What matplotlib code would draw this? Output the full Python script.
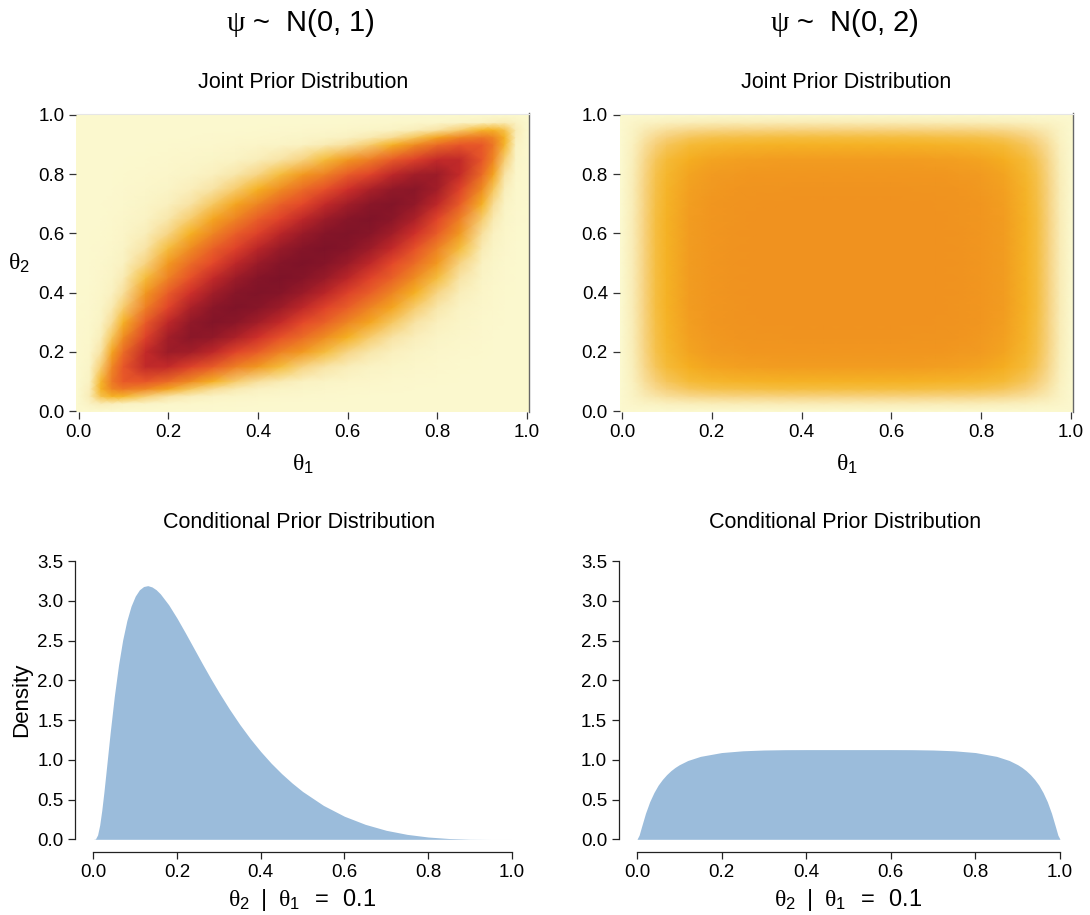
import numpy as np
import matplotlib
matplotlib.use("Agg")
import matplotlib.pyplot as plt
from matplotlib.colors import LinearSegmentedColormap, Normalize

plt.rcParams['font.family'] = ['Liberation Sans', 'DejaVu Sans']
plt.rcParams['mathtext.fontset'] = 'custom'
plt.rcParams['mathtext.rm'] = 'Liberation Serif'
plt.rcParams['mathtext.it'] = 'Liberation Serif:italic'
plt.rcParams['mathtext.bf'] = 'Liberation Serif:bold'
plt.rcParams['mathtext.sf'] = 'Liberation Sans'

# ---------------- data ----------------
panel_titles = [r'$\mathrm{\psi}$ ~  N(0, 1)', r'$\mathrm{\psi}$ ~  N(0, 2)']
grid_nodes = [0.0, 0.025, 0.05, 0.075, 0.1, 0.15, 0.2, 0.25, 0.3, 0.35, 0.4, 0.45, 0.5,
              0.55, 0.6, 0.65, 0.7, 0.75, 0.8, 0.85, 0.9, 0.925, 0.95, 0.975, 1.0]

# joint prior density, psi ~ N(0,1); rows = theta2 nodes, columns = theta1 nodes
joint_psi1 = [
    [0]*25,
    [0, .33, .45, .41, .34, .21, .13, .08, .05, .03, .02, .01, .01, 0, 0, 0, 0, 0, 0, 0, 0, 0, 0, 0, 0],
    [0, .45, .92, 1.06, 1.03, .82, .60, .42, .29, .20, .14, .09, .06, .04, .02, .01, .01, 0, 0, 0, 0, 0, 0, 0, 0],
    [0, .41, 1.06, 1.41, 1.52, 1.40, 1.14, .88, .67, .49, .36, .26, .18, .12, .08, .05, .03, .01, .01, 0, 0, 0, 0, 0, 0],
    [0, .34, 1.03, 1.52, 1.76, 1.80, 1.60, 1.33, 1.06, .83, .63, .47, .35, .24, .17, .11, .07, .04, .02, .01, 0, 0, 0, 0, 0],
    [0, .21, .82, 1.40, 1.80, 2.18, 2.17, 1.99, 1.74, 1.47, 1.21, .97, .76, .58, .42, .29, .19, .11, .06, .02, .01, 0, 0, 0, 0],
    [0, .13, .60, 1.14, 1.60, 2.17, 2.38, 2.35, 2.20, 1.97, 1.72, 1.45, 1.20, .96, .74, .54, .38, .24, .13, .06, .02, .01, 0, 0, 0],
    [0, .08, .42, .88, 1.33, 1.99, 2.35, 2.48, 2.44, 2.30, 2.10, 1.86, 1.60, 1.33, 1.07, .83, .60, .41, .24, .11, .04, .01, 0, 0, 0],
    [0, .05, .29, .67, 1.06, 1.74, 2.20, 2.44, 2.52, 2.48, 2.35, 2.17, 1.94, 1.68, 1.41, 1.13, .86, .60, .38, .19, .07, .03, .01, 0, 0],
    [0, .03, .20, .49, .83, 1.47, 1.97, 2.30, 2.48, 2.54, 2.50, 2.38, 2.20, 1.98, 1.71, 1.43, 1.13, .83, .54, .29, .11, .05, .01, 0, 0],
    [0, .02, .14, .36, .63, 1.21, 1.72, 2.10, 2.35, 2.50, 2.54, 2.51, 2.39, 2.22, 1.99, 1.71, 1.41, 1.07, .74, .42, .17, .08, .02, 0, 0],
    [0, .01, .09, .26, .47, .97, 1.45, 1.86, 2.17, 2.38, 2.51, 2.55, 2.51, 2.40, 2.22, 1.98, 1.68, 1.33, .96, .58, .24, .12, .04, 0, 0],
    [0, .01, .06, .18, .35, .76, 1.20, 1.60, 1.94, 2.20, 2.39, 2.51, 2.55, 2.51, 2.39, 2.20, 1.94, 1.60, 1.20, .76, .35, .18, .06, .01, 0],
    [0, 0, .04, .12, .24, .58, .96, 1.33, 1.68, 1.98, 2.22, 2.40, 2.51, 2.55, 2.51, 2.38, 2.17, 1.86, 1.45, .97, .47, .26, .09, .01, 0],
    [0, 0, .02, .08, .17, .42, .74, 1.07, 1.41, 1.71, 1.99, 2.22, 2.39, 2.51, 2.54, 2.50, 2.35, 2.10, 1.72, 1.21, .63, .36, .14, .02, 0],
    [0, 0, .01, .05, .11, .29, .54, .83, 1.13, 1.43, 1.71, 1.98, 2.20, 2.38, 2.50, 2.54, 2.48, 2.30, 1.97, 1.47, .83, .49, .20, .03, 0],
    [0, 0, .01, .03, .07, .19, .38, .60, .86, 1.13, 1.41, 1.68, 1.94, 2.17, 2.35, 2.48, 2.52, 2.44, 2.20, 1.74, 1.06, .67, .29, .05, 0],
    [0, 0, 0, .01, .04, .11, .24, .41, .60, .83, 1.07, 1.33, 1.60, 1.86, 2.10, 2.30, 2.44, 2.48, 2.35, 1.99, 1.33, .88, .42, .08, 0],
    [0, 0, 0, .01, .02, .06, .13, .24, .38, .54, .74, .96, 1.20, 1.45, 1.72, 1.97, 2.20, 2.35, 2.38, 2.17, 1.60, 1.14, .60, .13, 0],
    [0, 0, 0, 0, .01, .02, .06, .11, .19, .29, .42, .58, .76, .97, 1.21, 1.47, 1.74, 1.99, 2.17, 2.18, 1.80, 1.40, .82, .21, 0],
    [0, 0, 0, 0, 0, .01, .02, .04, .07, .11, .17, .24, .35, .47, .63, .83, 1.06, 1.33, 1.60, 1.80, 1.76, 1.52, 1.03, .34, 0],
    [0, 0, 0, 0, 0, 0, .01, .01, .03, .05, .08, .12, .18, .26, .36, .49, .67, .88, 1.14, 1.40, 1.52, 1.41, 1.06, .41, 0],
    [0, 0, 0, 0, 0, 0, 0, 0, .01, .01, .02, .04, .06, .09, .14, .20, .29, .42, .60, .82, 1.03, 1.06, .92, .45, 0],
    [0, 0, 0, 0, 0, 0, 0, 0, 0, 0, 0, 0, .01, .01, .02, .03, .05, .08, .13, .21, .34, .41, .45, .33, 0],
    [0]*25,
]

# joint prior density, psi ~ N(0,2)
joint_psi2 = [
    [0]*25,
    [0, .16, .28, .34, .38, .42, .44, .45, .45, .46, .46, .46, .46, .46, .46, .46, .45, .45, .44, .42, .38, .34, .28, .16, 0],
    [0, .28, .46, .57, .64, .71, .74, .76, .76, .77, .77, .77, .77, .77, .77, .77, .76, .76, .74, .71, .64, .57, .46, .28, 0],
    [0, .34, .57, .70, .79, .88, .92, .93, .94, .95, .95, .95, .95, .95, .95, .95, .94, .93, .92, .88, .79, .70, .57, .34, 0],
    [0, .38, .64, .79, .88, .98, 1.02, 1.04, 1.05, 1.06, 1.06, 1.06, 1.06, 1.06, 1.06, 1.06, 1.05, 1.04, 1.02, .98, .88, .79, .64, .38, 0],
    [0, .42, .71, .88, .98, 1.09, 1.14, 1.16, 1.17, 1.18, 1.18, 1.18, 1.18, 1.18, 1.18, 1.18, 1.17, 1.16, 1.14, 1.09, .98, .88, .71, .42, 0],
    [0, .44, .74, .92, 1.02, 1.14, 1.19, 1.21, 1.23, 1.23, 1.23, 1.23, 1.23, 1.23, 1.23, 1.23, 1.23, 1.21, 1.19, 1.14, 1.02, .92, .74, .44, 0],
    [0, .45, .76, .93, 1.04, 1.16, 1.21, 1.24, 1.25, 1.25, 1.26, 1.26, 1.26, 1.26, 1.26, 1.25, 1.25, 1.24, 1.21, 1.16, 1.04, .93, .76, .45, 0],
    [0, .45, .76, .94, 1.05, 1.17, 1.23, 1.25, 1.26, 1.27, 1.27, 1.27, 1.27, 1.27, 1.27, 1.27, 1.26, 1.25, 1.23, 1.17, 1.05, .94, .76, .45, 0],
    [0, .46, .77, .95, 1.06, 1.18, 1.23, 1.25, 1.27, 1.27, 1.27, 1.27, 1.27, 1.27, 1.27, 1.27, 1.27, 1.25, 1.23, 1.18, 1.06, .95, .77, .46, 0],
    [0, .46, .77, .95, 1.06, 1.18, 1.23, 1.26, 1.27, 1.27, 1.27, 1.27, 1.27, 1.27, 1.27, 1.27, 1.27, 1.26, 1.23, 1.18, 1.06, .95, .77, .46, 0],
    [0, .46, .77, .95, 1.06, 1.18, 1.23, 1.26, 1.27, 1.27, 1.27, 1.27, 1.27, 1.27, 1.27, 1.27, 1.27, 1.26, 1.23, 1.18, 1.06, .95, .77, .46, 0],
    [0, .46, .77, .95, 1.06, 1.18, 1.23, 1.26, 1.27, 1.27, 1.27, 1.27, 1.27, 1.27, 1.27, 1.27, 1.27, 1.26, 1.23, 1.18, 1.06, .95, .77, .46, 0],
    [0, .46, .77, .95, 1.06, 1.18, 1.23, 1.26, 1.27, 1.27, 1.27, 1.27, 1.27, 1.27, 1.27, 1.27, 1.27, 1.26, 1.23, 1.18, 1.06, .95, .77, .46, 0],
    [0, .46, .77, .95, 1.06, 1.18, 1.23, 1.26, 1.27, 1.27, 1.27, 1.27, 1.27, 1.27, 1.27, 1.27, 1.27, 1.26, 1.23, 1.18, 1.06, .95, .77, .46, 0],
    [0, .46, .77, .95, 1.06, 1.18, 1.23, 1.25, 1.27, 1.27, 1.27, 1.27, 1.27, 1.27, 1.27, 1.27, 1.27, 1.25, 1.23, 1.18, 1.06, .95, .77, .46, 0],
    [0, .45, .76, .94, 1.05, 1.17, 1.23, 1.25, 1.26, 1.27, 1.27, 1.27, 1.27, 1.27, 1.27, 1.27, 1.26, 1.25, 1.23, 1.17, 1.05, .94, .76, .45, 0],
    [0, .45, .76, .93, 1.04, 1.16, 1.21, 1.24, 1.25, 1.25, 1.26, 1.26, 1.26, 1.26, 1.26, 1.25, 1.25, 1.24, 1.21, 1.16, 1.04, .93, .76, .45, 0],
    [0, .44, .74, .92, 1.02, 1.14, 1.19, 1.21, 1.23, 1.23, 1.23, 1.23, 1.23, 1.23, 1.23, 1.23, 1.23, 1.21, 1.19, 1.14, 1.02, .92, .74, .44, 0],
    [0, .42, .71, .88, .98, 1.09, 1.14, 1.16, 1.17, 1.18, 1.18, 1.18, 1.18, 1.18, 1.18, 1.18, 1.17, 1.16, 1.14, 1.09, .98, .88, .71, .42, 0],
    [0, .38, .64, .79, .88, .98, 1.02, 1.04, 1.05, 1.06, 1.06, 1.06, 1.06, 1.06, 1.06, 1.06, 1.05, 1.04, 1.02, .98, .88, .79, .64, .38, 0],
    [0, .34, .57, .70, .79, .88, .92, .93, .94, .95, .95, .95, .95, .95, .95, .95, .94, .93, .92, .88, .79, .70, .57, .34, 0],
    [0, .28, .46, .57, .64, .71, .74, .76, .76, .77, .77, .77, .77, .77, .77, .77, .76, .76, .74, .71, .64, .57, .46, .28, 0],
    [0, .16, .28, .34, .38, .42, .44, .45, .45, .46, .46, .46, .46, .46, .46, .46, .45, .45, .44, .42, .38, .34, .28, .16, 0],
    [0]*25,
]

# conditional prior density theta2 | theta1 = 0.1
cond1_x = [0, 0.005, 0.01, 0.015, 0.02, 0.025, 0.03, 0.04, 0.05, 0.06, 0.07, 0.08, 0.09, 0.10,
           0.11, 0.12, 0.13, 0.14, 0.15, 0.16, 0.18, 0.20, 0.22, 0.24, 0.26, 0.28, 0.30, 0.325,
           0.35, 0.375, 0.40, 0.425, 0.45, 0.475, 0.50, 0.55, 0.60, 0.65, 0.70, 0.75, 0.80,
           0.85, 0.90, 0.95, 1.0]
cond1_y = [0, 0.005, 0.055, 0.178, 0.363, 0.588, 0.835, 1.337, 1.799, 2.190, 2.507, 2.751,
           2.932, 3.058, 3.138, 3.179, 3.190, 3.174, 3.139, 3.087, 2.949, 2.780, 2.595, 2.404,
           2.213, 2.027, 1.849, 1.639, 1.444, 1.266, 1.104, 0.957, 0.826, 0.708, 0.602, 0.426,
           0.290, 0.188, 0.113, 0.062, 0.029, 0.010, 0.002, 0.0001, 0]
cond2_x = [0, 0.005, 0.01, 0.02, 0.03, 0.04, 0.05, 0.06, 0.07, 0.08, 0.09, 0.10, 0.12, 0.15,
           0.20, 0.25, 0.30, 0.35, 0.40, 0.45, 0.50, 0.55, 0.60, 0.65, 0.70, 0.75, 0.80, 0.85,
           0.88, 0.90, 0.91, 0.92, 0.93, 0.94, 0.95, 0.96, 0.97, 0.98, 0.99, 0.995, 1.0]
cond2_y = [0, 0.052, 0.145, 0.326, 0.473, 0.588, 0.681, 0.753, 0.813, 0.863, 0.904, 0.938,
           0.991, 1.043, 1.091, 1.113, 1.123, 1.127, 1.128, 1.128, 1.128, 1.128, 1.128, 1.127,
           1.123, 1.113, 1.091, 1.043, 0.991, 0.938, 0.904, 0.863, 0.813, 0.753, 0.681, 0.588,
           0.473, 0.326, 0.145, 0.052, 0]

axis_ticks = [0.0, 0.2, 0.4, 0.6, 0.8, 1.0]
axis_ticklabels = ['0.0', '0.2', '0.4', '0.6', '0.8', '1.0']
density_ticks = [0.0, 0.5, 1.0, 1.5, 2.0, 2.5, 3.0, 3.5]
density_ticklabels = ['0.0', '0.5', '1.0', '1.5', '2.0', '2.5', '3.0', '3.5']

# ---------------- style ----------------
W, H = 1090, 915
fig = plt.figure(figsize=(W / 100, H / 100), dpi=100)

def px_axes(x0, x1, ytop, ybot):
    return fig.add_axes([x0 / W, 1 - ybot / H, (x1 - x0) / W, (ybot - ytop) / H])

heat_colors = [
    (0.00, '#FBF8CE'), (0.35, '#FAF2C2'), (0.60, '#F8E3A4'), (0.80, '#F7CF78'),
    (0.97, '#F5BC3A'), (1.08, '#F5B020'), (1.18, '#F29C20'), (1.27, '#F0921F'),
    (1.45, '#EE8224'), (1.65, '#EA6427'), (1.94, '#E4482A'), (2.10, '#CF302A'),
    (2.25, '#B52428'), (2.39, '#9A1B28'), (2.55, '#7E1328')]
vmax = 2.55
cmap = LinearSegmentedColormap.from_list('jointheat', [(v / vmax, c) for v, c in heat_colors])
norm = Normalize(0, vmax)
pale = '#FBF8CE'
fill_col = '#9BBCDB'
tick_fs = 13.5
title_fs = 15.5
label_fs = 17

heat_boxes = [(76.3, 529.3), (619.8, 1073.3)]
heat_ytop, heat_ybot = 113.5, 412.5
nodes = np.array(grid_nodes)
for k, (Z, (x0, x1)) in enumerate(zip([joint_psi1, joint_psi2], heat_boxes)):
    ax = px_axes(x0, x1, heat_ytop, heat_ybot)
    ax.set_facecolor(pale)
    ax.pcolormesh(nodes, nodes, np.array(Z), shading='gouraud', cmap=cmap, norm=norm,
                  rasterized=True)
    ax.set_xlim(-0.005, 1.005)
    ax.set_ylim(-0.005, 1.005)
    ax.spines['left'].set_visible(False)
    ax.spines['bottom'].set_visible(False)
    ax.spines['right'].set_color('#666666')
    ax.spines['right'].set_linewidth(1.0)
    ax.spines['top'].set_color('#e6e6e6')
    ax.spines['top'].set_linewidth(0.8)
    ax.set_xticks(axis_ticks)
    ax.set_xticklabels(axis_ticklabels)
    ax.set_yticks(axis_ticks)
    ax.set_yticklabels(axis_ticklabels)
    ax.tick_params(direction='out', length=5, width=0.9, color='#333333',
                   labelsize=tick_fs, pad=3.5)
    cx = (x0 + x1) / 2
    fig.text(cx / W, 1 - 83 / H, 'Joint Prior Distribution', ha='center', va='center',
             fontsize=title_fs)
    fig.text(cx / W, 1 - 464 / H, r'$\mathrm{\theta}_\mathsf{1}$', ha='center', va='center',
             fontsize=label_fs)
    fig.text((cx - 2) / W, 1 - 23 / H, panel_titles[k], ha='center', va='center', fontsize=21)

fig.text(19 / W, 1 - 263 / H, r'$\mathrm{\theta}_\mathsf{2}$', ha='center', va='center',
         fontsize=label_fs)

cond_boxes = [(93.4, 511.7), (637.0, 1060.0)]
cond_ytop, cond_ybot = 561.0, 839.3
for k, (xs, ys, (x0, x1)) in enumerate(zip([cond1_x, cond2_x], [cond1_y, cond2_y], cond_boxes)):
    ax = px_axes(x0, x1, cond_ytop, cond_ybot)
    ax.fill_between(xs, 0, ys, color=fill_col, linewidth=0)
    ax.set_xlim(0, 1)
    ax.set_ylim(0, 3.5)
    for s in ['top', 'right']:
        ax.spines[s].set_visible(False)
    ax.spines['left'].set_position(('outward', 13))
    ax.spines['bottom'].set_position(('outward', 9))
    ax.spines['left'].set_bounds(0, 3.5)
    ax.spines['bottom'].set_bounds(0, 1)
    for s in ['left', 'bottom']:
        ax.spines[s].set_linewidth(0.9)
        ax.spines[s].set_color('#222222')
    ax.set_xticks(axis_ticks)
    ax.set_xticklabels(axis_ticklabels)
    ax.set_yticks(density_ticks)
    ax.set_yticklabels(density_ticklabels)
    ax.tick_params(direction='out', length=5, width=0.9, color='#222222',
                   labelsize=tick_fs, pad=3.5)
    cx = (x0 + x1) / 2
    fig.text((cx - 3) / W, 1 - 522 / H, 'Conditional Prior Distribution', ha='center',
             va='center', fontsize=title_fs)
    fig.text(cx / W, 1 - 900 / H,
             r'$\mathrm{\theta}_\mathsf{2}\ \ \mathsf{|}\ \ \mathrm{\theta}_\mathsf{1}\ \ \mathsf{=}\ \ \mathsf{0.1}$',
             ha='center', va='center', fontsize=label_fs)

fig.text(22 / W, 1 - 700 / H, 'Density', rotation=90, ha='center', va='center',
         fontsize=16)

fig.savefig('out.png', dpi=100)
